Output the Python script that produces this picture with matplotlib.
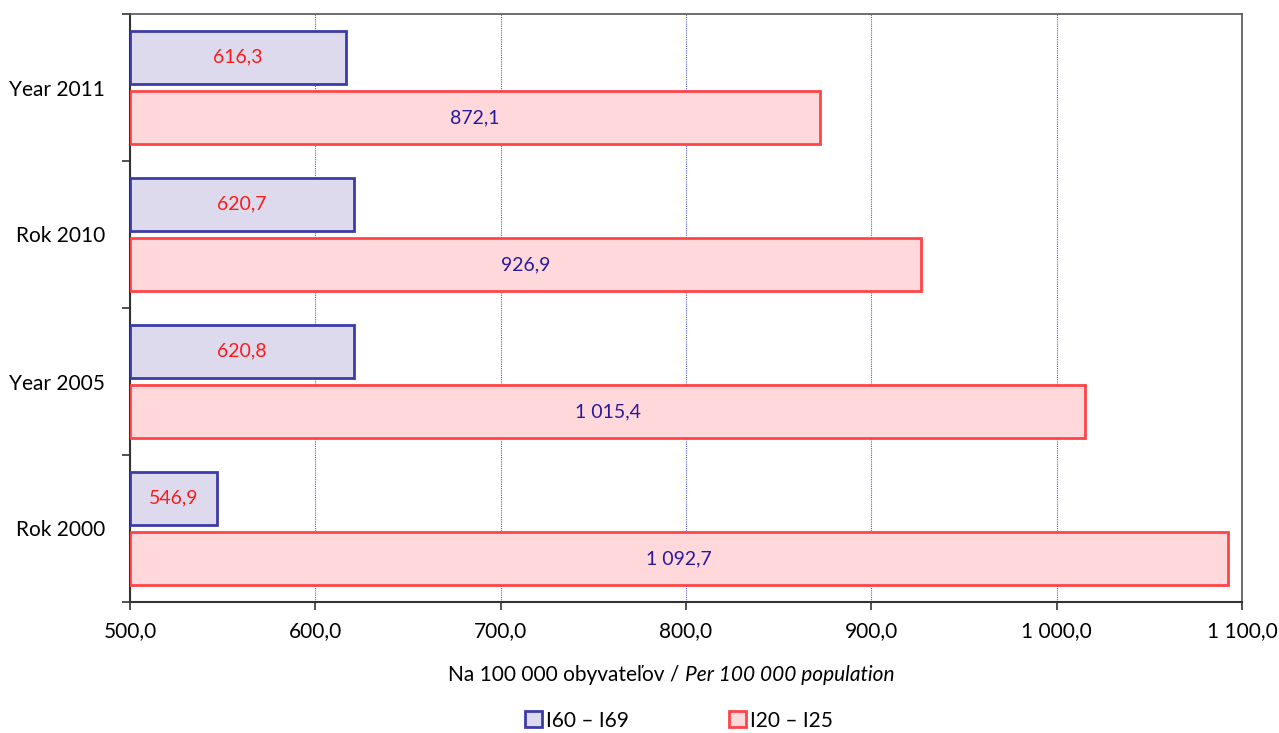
import matplotlib.pyplot as plt
import numpy as np
from matplotlib.patches import Patch
from matplotlib.offsetbox import TextArea, HPacker, AnchoredOffsetbox

plt.rcParams['font.family'] = ['Lato', 'DejaVu Sans']

# data
years = ['Rok 2000', 'Year 2005', 'Rok 2010', 'Year 2011']
i60_69 = [546.9, 620.8, 620.7, 616.3]
i20_25 = [1092.7, 1015.4, 926.9, 872.1]
x_ticks = [500, 600, 700, 800, 900, 1000, 1100]


def fmt(v, dec=1):
    s = f"{v:,.{dec}f}"
    return s.replace(',', ' ').replace('.', ',')


base = 500
blue_edge = '#3c3ca8'
blue_fill = '#dcdaec'
red_edge = '#ff4448'
red_fill = '#ffd8db'
label_blue = '#2a1a9a'

fig = plt.figure(figsize=(12.79, 7.33), dpi=100)
ax = fig.add_axes([130 / 1279, 1 - 602 / 733, 1112 / 1279, 588 / 733])

y = np.arange(len(years))
h = 0.365
off = 0.205

ax.barh(y + off, np.array(i60_69) - base, left=base, height=h,
        color=blue_fill, edgecolor=blue_edge, linewidth=2, zorder=3)
ax.barh(y - off, np.array(i20_25) - base, left=base, height=h,
        color=red_fill, edgecolor=red_edge, linewidth=2, zorder=3)

for yi, v in zip(y, i60_69):
    ax.text((base + v) / 2, yi + off, fmt(v), ha='center', va='center',
            color='#ff1a1a', fontsize=14, zorder=4)
for yi, v in zip(y, i20_25):
    ax.text((base + v) / 2, yi - off, fmt(v), ha='center', va='center',
            color=label_blue, fontsize=14, zorder=4)

ax.set_xlim(500, 1100)
ax.set_ylim(-0.5, len(years) - 0.5)
ax.set_xticks(x_ticks)
ax.set_xticklabels([fmt(t) for t in x_ticks], fontsize=15)
ax.set_yticks(y)
ax.set_yticklabels(years, fontsize=15)
ax.set_yticks(np.arange(len(years) + 1) - 0.5, minor=True)
ax.tick_params(axis='y', which='major', length=0, pad=18)
ax.tick_params(axis='y', which='minor', length=6, width=1.2, color='#333333')
ax.tick_params(axis='x', length=6, width=1.2, color='#333333', pad=8)

ax.grid(axis='x', color='#5a5ad0', linewidth=0.8, linestyle=(0, (1, 1)), zorder=0)
for s in ['left', 'bottom']:
    ax.spines[s].set_color('#333333')
    ax.spines[s].set_linewidth(1.5)
for s in ['top', 'right']:
    ax.spines[s].set_color('#555555')
    ax.spines[s].set_linewidth(1.2)

# axis title: plain + italic part
t1 = TextArea('Na 100 000 obyvateľov / ', textprops=dict(fontsize=15))
t2 = TextArea('Per 100 000 population', textprops=dict(fontsize=15, style='italic'))
box = HPacker(children=[t1, t2], align='baseline', pad=0, sep=0)
anch = AnchoredOffsetbox(loc='center', child=box, pad=0, frameon=False,
                         bbox_to_anchor=(0.525, 1 - 675 / 733),
                         bbox_transform=fig.transFigure, borderpad=0)
fig.add_artist(anch)

handles = [Patch(facecolor=blue_fill, edgecolor=blue_edge, linewidth=2, label='I60 – I69'),
           Patch(facecolor=red_fill, edgecolor=red_edge, linewidth=2, label='I20 – I25')]
fig.legend(handles=handles, loc='center', bbox_to_anchor=(0.531, 0.017), ncol=2,
           frameon=False, fontsize=15, handlelength=0.8, handleheight=0.8,
           handletextpad=0.2, columnspacing=4.8)

fig.savefig('out.png', dpi=100)
